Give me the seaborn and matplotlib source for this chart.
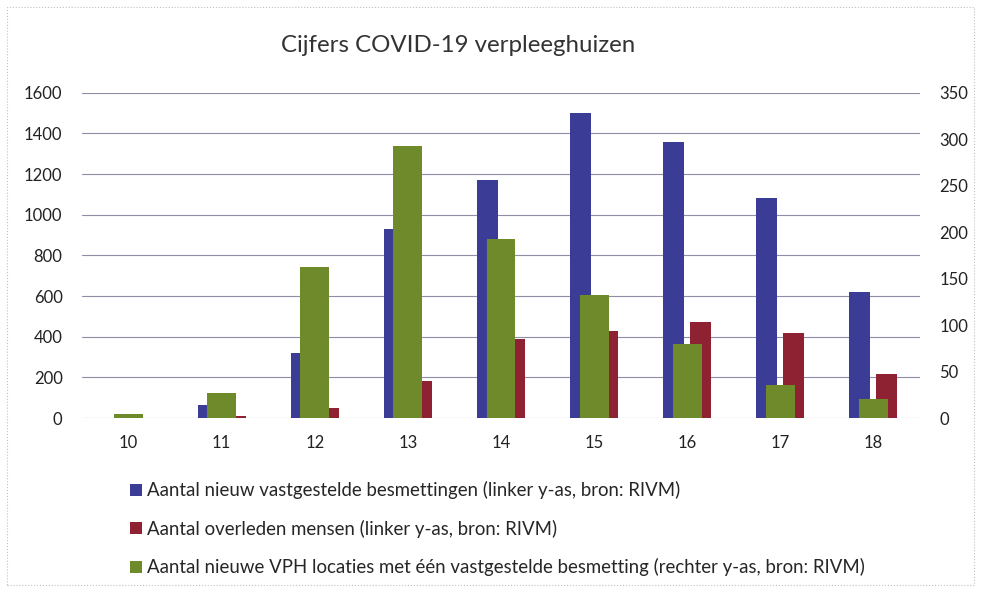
import pandas as pd
import matplotlib.pyplot as plt
import seaborn as sns
from matplotlib.patches import Patch, Rectangle

weeks = ['10', '11', '12', '13', '14', '15', '16', '17', '18']
besmettingen = [0, 65, 320, 930, 1170, 1500, 1360, 1080, 620]
overleden = [0, 10, 50, 180, 390, 430, 470, 420, 215]
vph_locaties = [4, 27, 163, 293, 193, 132, 80, 35, 20]

LABELS = [
    'Aantal nieuw vastgestelde besmettingen (linker y-as, bron: RIVM)',
    'Aantal overleden mensen (linker y-as, bron: RIVM)',
    'Aantal nieuwe VPH locaties met één vastgestelde besmetting (rechter y-as, bron: RIVM)',
]
COLORS = ['#3a3c96', '#8e2232', '#6f8a2a']

sns.set_theme(style="white")
plt.rcParams['font.family'] = ['Lato', 'DejaVu Sans']

df_left = pd.DataFrame({
    'week': weeks * 2,
    'waarde': besmettingen + overleden,
    'serie': [LABELS[0]] * len(weeks) + [LABELS[1]] * len(weeks),
})
df_right = pd.DataFrame({'week': weeks, 'waarde': vph_locaties})

fig = plt.figure(figsize=(9.81, 5.89), dpi=100)
ax = fig.add_axes([0.0836, 0.2903, 0.8542, 0.5523])

sns.barplot(data=df_left, x='week', y='waarde', hue='serie', order=weeks,
            hue_order=LABELS[:2], palette=COLORS[:2], width=0.58, gap=0.22,
            saturation=1, legend=False, linewidth=0, edgecolor='none', ax=ax, zorder=2)
ax.set_ylim(0, 1600)
ax.set_yticks(range(0, 1601, 200))
ax.grid(axis='y', color='#8e8ea6', linewidth=0.8, zorder=0)
ax.set_axisbelow(True)

ax2 = ax.twinx()
sns.barplot(data=df_right, x='week', y='waarde', order=weeks, color=COLORS[2],
            width=0.31, saturation=1, linewidth=0, edgecolor='none', ax=ax2, zorder=3)
ax2.set_ylim(0, 350)
ax2.set_yticks(range(0, 351, 50))

for a in (ax, ax2):
    a.set_xlim(-0.5, 8.5)
    a.set_xlabel('')
    a.set_ylabel('')
    for s in a.spines.values():
        s.set_visible(False)
    a.tick_params(length=0, labelsize=12, colors='#222222')
    a.tick_params(axis='y', pad=14)
    a.tick_params(axis='x', pad=12)

fig.text(0.467, 0.922, 'Cijfers COVID-19 verpleeghuizen', ha='center', va='center',
         fontsize=17.3, color='#333333')

handles = [Patch(facecolor=c, edgecolor='none') for c in COLORS]
fig.legend(handles, LABELS, loc='upper left', bbox_to_anchor=(0.133, 0.183),
           frameon=False, fontsize=13.4, handlelength=0.6, handleheight=0.6,
           handletextpad=0.3, labelspacing=1.1, borderaxespad=0, borderpad=0)

fig.patches.append(Rectangle((0.007, 0.006), 0.986, 0.982, transform=fig.transFigure,
                             fill=False, edgecolor='#c0c0c0', linestyle=':', linewidth=0.8))

fig.savefig('out.png', dpi=100)
